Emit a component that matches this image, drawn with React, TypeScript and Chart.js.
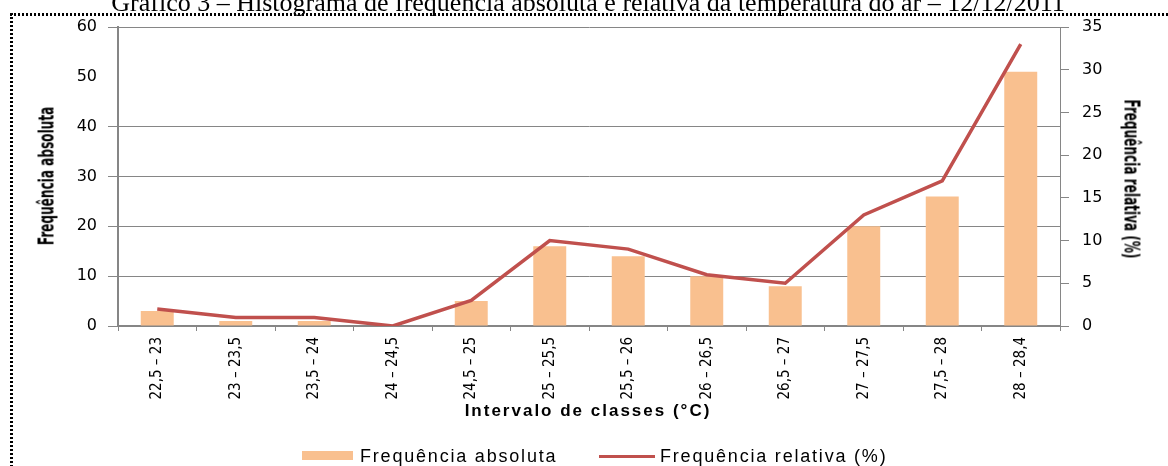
import React, { useEffect, useRef } from "react";
import { Chart, registerables } from "chart.js";

Chart.register(...registerables);

const chartTitle = "Gráfico 3 – Histograma de frequência absoluta e relativa da temperatura do ar – 12/12/2011";
const categories = [
  "22,5 – 23", "23 – 23,5", "23,5 – 24", "24 – 24,5", "24,5 – 25", "25 – 25,5",
  "25,5 – 26", "26 – 26,5", "26,5 – 27", "27 – 27,5", "27,5 – 28", "28 – 28,4",
];
const absoluteFreq = [3, 1, 1, 0, 5, 16, 14, 10, 8, 20, 26, 51];
const relativeFreq = [2, 1, 1, 0, 3, 10, 9, 6, 5, 13, 17, 33];
const leftTicks = [0, 10, 20, 30, 40, 50, 60];
const rightTicks = [0, 5, 10, 15, 20, 25, 30, 35];
const absLabel = "Frequência absoluta";
const relLabel = "Frequência relativa (%)";
const xTitle = "Intervalo de classes (°C)";
const leftTitle = "Frequência absoluta";
const rightTitle = "Frequência relativa (%)";

const W = 1168;
const H = 466;
const AXIS_GRAY = "#868686";
const BAR_COLOR = "#F9C08F";
const LINE_COLOR = "#C0504D";
const NARROW = "'Liberation Sans Narrow', 'DejaVu Sans Condensed', 'Arial Narrow', sans-serif";
const SANS = "'Liberation Sans', Arial, sans-serif";

export default function App() {
  const canvasRef = useRef<HTMLCanvasElement | null>(null);

  useEffect(() => {
    const canvas = canvasRef.current;
    if (!canvas) return;
    const chart = new Chart(canvas, {
      type: "bar",
      data: {
        labels: categories,
        datasets: [
          {
            type: "line",
            label: relLabel,
            data: relativeFreq,
            yAxisID: "yRight",
            borderColor: LINE_COLOR,
            backgroundColor: LINE_COLOR,
            borderWidth: 3.5,
            pointRadius: 0,
            tension: 0,
            order: 0,
          } as any,
          {
            type: "bar",
            label: absLabel,
            data: absoluteFreq,
            yAxisID: "yLeft",
            backgroundColor: BAR_COLOR,
            barPercentage: 0.42,
            categoryPercentage: 1,
            order: 1,
          } as any,
        ],
      },
      options: {
        animation: false,
        responsive: false,
        devicePixelRatio: 1,
        layout: { padding: { top: 27, left: 0, right: 0, bottom: 0 } },
        plugins: {
          legend: { display: false },
          tooltip: { enabled: false },
          title: { display: false },
        },
        scales: {
          x: {
            offset: true,
            grid: {
              offset: true,
              drawOnChartArea: false,
              drawTicks: true,
              tickLength: 5,
              color: AXIS_GRAY,
              lineWidth: 1,
            },
            border: { color: AXIS_GRAY, width: 2 },
            ticks: {
              autoSkip: false,
              maxRotation: 90,
              minRotation: 90,
              color: "#000",
              padding: 6,
              font: { family: NARROW, size: 15 },
            },
            afterFit: (s: any) => {
              s.height = H - 326;
            },
          },
          yLeft: {
            type: "linear",
            position: "left",
            min: leftTicks[0],
            max: leftTicks[leftTicks.length - 1],
            afterBuildTicks: (s: any) => {
              s.ticks = leftTicks.map((v) => ({ value: v }));
            },
            grid: {
              color: (ctx: any) => (ctx.tick && ctx.tick.value === 50 ? "rgba(0,0,0,0)" : AXIS_GRAY),
              lineWidth: 1,
              tickLength: 10,
            },
            border: { color: AXIS_GRAY, width: 2 },
            ticks: {
              color: "#000",
              padding: 11,
              font: { family: "'DejaVu Sans', sans-serif", size: 16 },
            },
            afterFit: (s: any) => {
              s.width = 118;
            },
          },
          yRight: {
            type: "linear",
            position: "right",
            min: rightTicks[0],
            max: rightTicks[rightTicks.length - 1],
            afterBuildTicks: (s: any) => {
              s.ticks = rightTicks.map((v) => ({ value: v }));
            },
            grid: {
              drawOnChartArea: false,
              color: AXIS_GRAY,
              lineWidth: 1,
              tickLength: 9,
            },
            border: { color: AXIS_GRAY, width: 1 },
            ticks: {
              color: "#000",
              padding: 13,
              font: { family: "'DejaVu Sans', sans-serif", size: 16 },
            },
            afterFit: (s: any) => {
              s.width = W - 1060;
            },
          },
        },
      } as any,
    });
    return () => chart.destroy();
  }, []);

  const abs: React.CSSProperties = { position: "absolute", whiteSpace: "nowrap", color: "#000" };

  return (
    <div style={{ position: "absolute", left: 0, top: 0, width: W, height: H, overflow: "hidden", background: "#fff" }}>
      <canvas ref={canvasRef} width={W} height={H} style={{ position: "absolute", left: 0, top: 0, display: "block" }} />
      {/* title, cut at the top */}
      <div
        style={{
          ...abs,
          left: 588,
          top: -10,
          transform: "translateX(-50%)",
          fontFamily: "'Liberation Serif', 'Times New Roman', serif",
          fontSize: 26,
          lineHeight: "26px",
        }}
      >
        {chartTitle}
      </div>
      {/* dotted frame */}
      <div
        style={{
          position: "absolute",
          left: 10,
          top: 13,
          width: W - 10,
          height: 3,
          backgroundImage: "repeating-linear-gradient(to right, #000 0px, #000 2px, transparent 2px, transparent 4px)",
        }}
      />
      <div
        style={{
          position: "absolute",
          left: 10,
          top: 13,
          width: 3,
          height: H - 13,
          backgroundImage: "repeating-linear-gradient(to bottom, #000 0px, #000 2px, transparent 2px, transparent 4px)",
        }}
      />
      {/* axis titles */}
      <div
        style={{
          ...abs,
          left: 47,
          top: 176,
          transform: "translate(-50%, -50%) rotate(-90deg) scaleX(0.64)",
          fontFamily: NARROW,
          fontWeight: "bold",
          fontSize: 21,
          lineHeight: "21px",
        }}
      >
        {leftTitle}
      </div>
      <div
        style={{
          ...abs,
          left: 1131,
          top: 179,
          transform: "translate(-50%, -50%) rotate(90deg) scaleX(0.64)",
          fontFamily: NARROW,
          fontWeight: "bold",
          fontSize: 21,
          lineHeight: "21px",
        }}
      >
        {rightTitle}
      </div>
      <div
        style={{
          ...abs,
          left: 588,
          top: 410,
          transform: "translate(-50%, -50%)",
          fontFamily: SANS,
          fontWeight: "bold",
          fontSize: 17,
          lineHeight: "17px",
          letterSpacing: 2,
        }}
      >
        {xTitle}
      </div>
      {/* legend */}
      <div style={{ position: "absolute", left: 302, top: 451, width: 51, height: 9, background: BAR_COLOR }} />
      <div
        style={{ ...abs, left: 360, top: 456, transform: "translateY(-50%)", fontFamily: SANS, fontSize: 18, lineHeight: "18px", letterSpacing: 1.8 }}
      >
        {absLabel}
      </div>
      <div style={{ position: "absolute", left: 599, top: 455, width: 56, height: 3, background: LINE_COLOR }} />
      <div
        style={{ ...abs, left: 660, top: 456, transform: "translateY(-50%)", fontFamily: SANS, fontSize: 18, lineHeight: "18px", letterSpacing: 1.8 }}
      >
        {relLabel}
      </div>
    </div>
  );
}
